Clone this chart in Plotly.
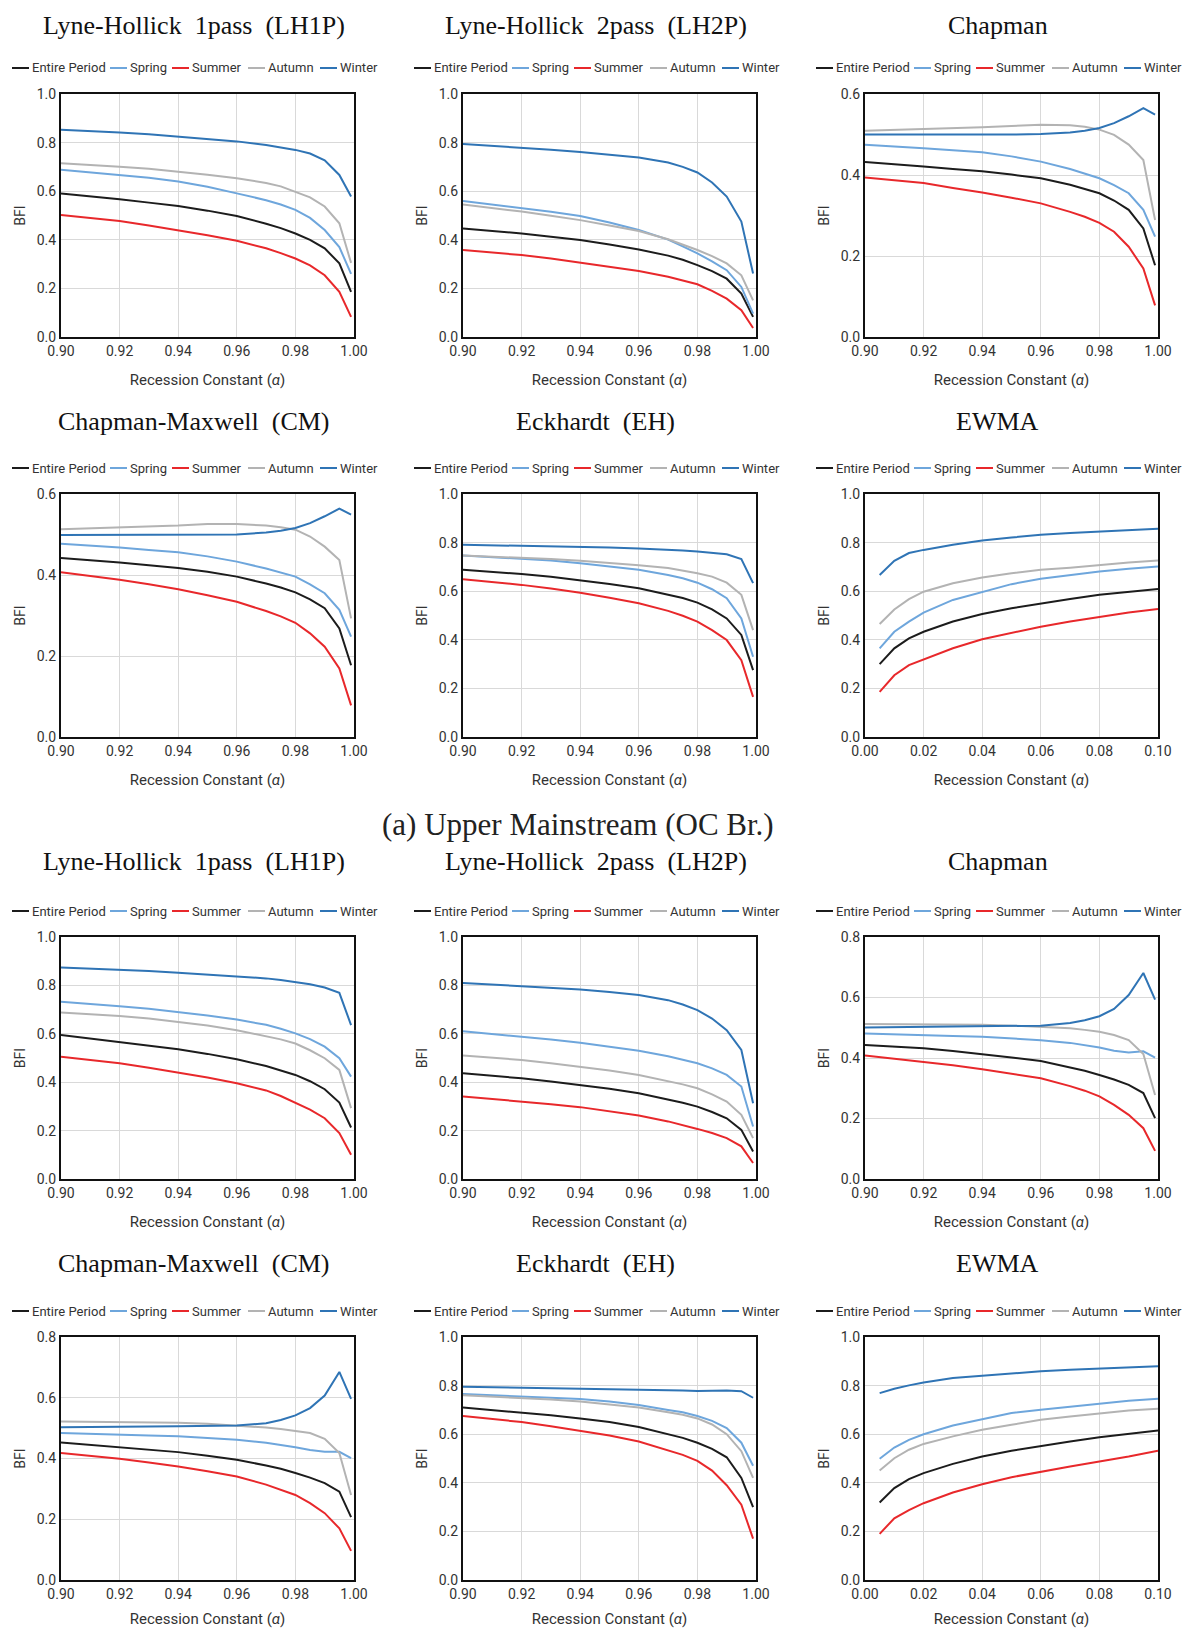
import plotly.graph_objects as go

PAGE_W, PAGE_H = 1190, 1637
BODY = 8  # default page margin around the plot div
W, H = PAGE_W - 2 * BODY, PAGE_H - 2 * BODY

# ---------------- data ----------------
ALPHA_X = [0.90, 0.91, 0.92, 0.93, 0.94, 0.95, 0.96, 0.97, 0.975, 0.98, 0.985, 0.99, 0.995, 0.999]
EWMA_X = [0.005, 0.01, 0.015, 0.02, 0.03, 0.04, 0.05, 0.06, 0.07, 0.08, 0.09, 0.10]
SERIES = ["Entire Period", "Spring", "Summer", "Autumn", "Winter"]

up_lh1p = {
    "Winter": [.853, .848, .842, .834, .825, .816, .805, .790, .781, .770, .755, .727, .667, .578],
    "Autumn": [.715, .709, .701, .692, .681, .668, .653, .634, .620, .598, .575, .537, .468, .305],
    "Spring": [.688, .678, .667, .655, .640, .618, .591, .563, .545, .523, .490, .440, .370, .260],
    "Entire Period": [.591, .580, .567, .553, .539, .520, .498, .466, .448, .426, .400, .365, .303, .186],
    "Summer": [.502, .490, .477, .459, .440, .419, .396, .365, .345, .323, .295, .254, .186, .083],
}
up_lh2p = {
    "Winter": [.794, .787, .780, .771, .761, .751, .739, .718, .700, .677, .636, .578, .475, .261],
    "Spring": [.560, .546, .530, .515, .498, .471, .440, .401, .373, .344, .311, .275, .206, .096],
    "Autumn": [.545, .531, .516, .499, .481, .459, .436, .402, .381, .358, .333, .303, .254, .151],
    "Entire Period": [.447, .437, .426, .413, .399, .381, .360, .335, .318, .296, .271, .240, .179, .083],
    "Summer": [.358, .348, .337, .323, .307, .291, .272, .248, .233, .217, .190, .158, .110, .037],
}
up_chap = {
    "Winter": [.500, .500, .499, .499, .499, .500, .501, .505, .509, .516, .528, .545, .565, .549],
    "Autumn": [.509, .511, .513, .516, .518, .521, .524, .523, .519, .512, .499, .475, .437, .289],
    "Spring": [.475, .471, .466, .461, .456, .446, .433, .415, .404, .392, .375, .355, .314, .248],
    "Entire Period": [.432, .427, .421, .415, .409, .401, .392, .376, .366, .355, .337, .314, .268, .177],
    "Summer": [.394, .387, .380, .368, .357, .344, .330, .309, .297, .282, .260, .223, .169, .078],
}
up_cm = {
    "Winter": [.499, .499, .499, .499, .499, .499, .500, .505, .509, .516, .528, .545, .564, .549],
    "Autumn": [.513, .515, .517, .520, .522, .526, .526, .522, .518, .512, .495, .470, .437, .293],
    "Spring": [.477, .473, .468, .462, .456, .446, .433, .416, .406, .396, .377, .355, .314, .248],
    "Entire Period": [.442, .437, .431, .424, .417, .408, .396, .379, .369, .357, .340, .318, .268, .177],
    "Summer": [.407, .398, .388, .377, .365, .350, .334, .311, .298, .282, .256, .223, .169, .078],
}
up_eh = {
    "Winter": [.791, .789, .787, .785, .783, .780, .776, .772, .768, .763, .759, .752, .732, .633],
    "Autumn": [.747, .743, .739, .732, .725, .717, .707, .695, .686, .674, .660, .635, .585, .440],
    "Spring": [.747, .741, .735, .726, .715, .703, .688, .667, .653, .635, .608, .571, .488, .330],
    "Entire Period": [.688, .680, .671, .659, .646, .630, .612, .587, .572, .553, .525, .488, .420, .275],
    "Summer": [.649, .638, .626, .611, .594, .573, .550, .519, .499, .475, .440, .399, .316, .165],
}
up_ewma = {
    "Winter": [.667, .725, .757, .770, .791, .809, .821, .832, .839, .846, .853, .857],
    "Autumn": [.465, .525, .567, .598, .633, .656, .674, .688, .697, .708, .718, .726],
    "Spring": [.365, .433, .475, .512, .564, .598, .629, .651, .667, .681, .692, .702],
    "Entire Period": [.300, .365, .406, .433, .475, .506, .530, .550, .568, .585, .598, .609],
    "Summer": [.186, .254, .296, .320, .365, .402, .429, .454, .475, .495, .512, .527],
}
lo_lh1p = {
    "Winter": [.874, .870, .865, .859, .852, .845, .838, .829, .822, .815, .805, .791, .769, .636],
    "Spring": [.732, .724, .714, .703, .691, .676, .659, .637, .621, .602, .578, .547, .499, .423],
    "Autumn": [.688, .682, .674, .663, .650, .634, .615, .591, .577, .560, .532, .499, .451, .293],
    "Entire Period": [.595, .581, .567, .552, .536, .517, .495, .467, .450, .430, .404, .371, .316, .213],
    "Summer": [.505, .492, .478, .460, .440, .419, .396, .366, .343, .316, .287, .251, .190, .100],
}
lo_lh2p = {
    "Winter": [.810, .804, .798, .791, .783, .773, .760, .739, .721, .698, .663, .615, .533, .313],
    "Spring": [.611, .600, .588, .576, .563, .548, .530, .507, .494, .478, .457, .430, .382, .217],
    "Autumn": [.510, .501, .492, .478, .464, .448, .430, .406, .391, .375, .350, .320, .265, .169],
    "Entire Period": [.437, .427, .416, .403, .389, .373, .354, .329, .315, .299, .277, .251, .203, .114],
    "Summer": [.341, .331, .320, .309, .297, .281, .262, .238, .224, .207, .190, .169, .135, .066],
}
lo_chap = {
    "Winter": [.501, .502, .503, .503, .504, .505, .507, .516, .525, .538, .562, .608, .681, .593],
    "Autumn": [.512, .512, .512, .511, .510, .507, .503, .498, .493, .487, .476, .459, .413, .278],
    "Spring": [.481, .479, .476, .473, .470, .465, .459, .450, .443, .435, .424, .418, .422, .401],
    "Entire Period": [.443, .438, .432, .423, .413, .402, .390, .370, .358, .344, .329, .311, .284, .201],
    "Summer": [.408, .398, .388, .376, .363, .349, .333, .307, .292, .273, .245, .212, .168, .093],
}
lo_cm = {
    "Winter": [.503, .503, .504, .505, .506, .507, .509, .516, .527, .542, .566, .607, .685, .596],
    "Autumn": [.522, .521, .520, .519, .518, .514, .509, .502, .497, .491, .484, .465, .418, .280],
    "Spring": [.484, .482, .479, .476, .473, .468, .462, .452, .445, .437, .428, .422, .422, .401],
    "Entire Period": [.453, .445, .437, .429, .421, .409, .396, .377, .366, .352, .337, .319, .291, .207],
    "Summer": [.418, .409, .399, .387, .374, .358, .341, .314, .298, .280, .253, .220, .170, .096],
}
lo_eh = {
    "Winter": [.795, .793, .792, .791, .790, .788, .785, .782, .780, .778, .779, .780, .777, .750],
    "Spring": [.765, .760, .755, .751, .745, .735, .720, .700, .690, .675, .655, .625, .565, .470],
    "Autumn": [.760, .755, .750, .743, .735, .724, .710, .690, .680, .665, .640, .600, .530, .420],
    "Entire Period": [.710, .700, .690, .678, .665, .650, .630, .602, .585, .565, .540, .505, .420, .300],
    "Summer": [.675, .663, .650, .633, .615, .595, .570, .535, .515, .490, .450, .390, .310, .170],
}
lo_ewma = {
    "Winter": [.769, .787, .801, .813, .831, .841, .852, .859, .865, .871, .876, .880],
    "Spring": [.499, .545, .577, .600, .636, .663, .687, .701, .714, .728, .738, .746],
    "Autumn": [.451, .501, .536, .560, .591, .618, .639, .659, .673, .687, .698, .705],
    "Entire Period": [.319, .378, .415, .440, .478, .508, .532, .552, .570, .587, .602, .615],
    "Summer": [.190, .254, .288, .316, .360, .394, .423, .446, .467, .488, .508, .532],
}

TITLES = ["Lyne-Hollick\u00a0 1pass\u00a0 (LH1P)", "Lyne-Hollick\u00a0 2pass\u00a0 (LH2P)", "Chapman",
          "Chapman-Maxwell\u00a0 (CM)", "Eckhardt\u00a0 (EH)", "EWMA"] * 2
PANEL_DATA = [up_lh1p, up_lh2p, up_chap, up_cm, up_eh, up_ewma,
              lo_lh1p, lo_lh2p, lo_chap, lo_cm, lo_eh, lo_ewma]
Y_MAX = [1.0, 1.0, 0.6, 0.6, 1.0, 1.0, 1.0, 1.0, 0.8, 0.8, 1.0, 1.0]
CAPTION = "(a) Upper Mainstream (OC Br.)"

# ---------------- style / layout (page pixel positions) ----------------
COLORS = {"Entire Period": "#1c1c1c", "Spring": "#6ea6dc", "Summer": "#e8282b",
          "Autumn": "#b3b3b3", "Winter": "#2f74b5"}
COL_X = [(61, 354), (463, 756), (865, 1158)]
ROW_Y = [(94, 337), (494, 737), (937, 1179), (1337, 1580)]
TITLE_Y = [26, 421, 862, 1263]
LEGEND_Y = [68, 468, 911, 1311]
XTITLE_STANDOFF = [17, 17, 17, 13]
LEG_OFFS = [0, 98, 160, 236, 308]
SANS = "Roboto, Noto Sans, sans-serif"
SERIF = "Liberation Serif, DejaVu Serif, serif"


def px(x):
    return (x - BODY) / W


def py(y):
    return 1 - (y - BODY) / H


fig = go.Figure()
layout = {}
shapes = []
annotations = []

for i, pdata in enumerate(PANEL_DATA):
    r, c = divmod(i, 3)
    n = i + 1
    xa = "x" if n == 1 else f"x{n}"
    ya = "y" if n == 1 else f"y{n}"
    is_ewma = (c == 2 and r in (1, 3))
    xs = EWMA_X if is_ewma else ALPHA_X
    for s in SERIES:
        fig.add_trace(go.Scatter(x=xs, y=pdata[s], mode="lines", name=s,
                                 line=dict(color=COLORS[s], width=2),
                                 xaxis=xa, yaxis=ya, showlegend=False))
    x0, x1 = COL_X[c]
    y0, y1 = ROW_Y[r]
    axis_common = dict(showgrid=True, gridcolor="#d9d9d9", gridwidth=1,
                       showline=True, mirror=True, linecolor="#111", linewidth=2,
                       zeroline=False, ticks="", automargin=False,
                       tickfont=dict(family=SANS, size=14, color="#333"))
    layout["xaxis" if n == 1 else f"xaxis{n}"] = dict(
        domain=[px(x0), px(x1)], anchor=ya,
        range=[0.0, 0.10] if is_ewma else [0.90, 1.00],
        dtick=0.02, tick0=0, tickformat=".2f",
        title=dict(text="Recession Constant (<i>α</i>)",
                   font=dict(family=SANS, size=15, color="#333"),
                   standoff=XTITLE_STANDOFF[r]),
        **axis_common)
    layout["yaxis" if n == 1 else f"yaxis{n}"] = dict(
        domain=[py(y1), py(y0)], anchor=xa,
        range=[0, Y_MAX[i]], dtick=0.2, tickformat=".1f",
        title=dict(text="BFI", font=dict(family=SANS, size=14, color="#333"), standoff=8),
        **axis_common)

    # panel title
    annotations.append(dict(text=TITLES[i], xref="paper", yref="paper",
                            x=px((x0 + x1) / 2 - 14), y=py(TITLE_Y[r]),
                            xanchor="center", yanchor="middle", showarrow=False,
                            font=dict(family=SERIF, size=26, color="#111")))
    # legend
    lx = x0 - 49
    ly = py(LEGEND_Y[r])
    for s, off in zip(SERIES, LEG_OFFS):
        shapes.append(dict(type="line", xref="paper", yref="paper",
                           x0=px(lx + off), x1=px(lx + off + 17), y0=ly, y1=ly,
                           line=dict(color=COLORS[s], width=2)))
        annotations.append(dict(text=s, xref="paper", yref="paper",
                                x=px(lx + off + 18), y=ly, xanchor="left", yanchor="middle",
                                showarrow=False,
                                font=dict(family=SANS, size=13, color="#333")))

annotations.append(dict(text=CAPTION, xref="paper", yref="paper",
                        x=px(578), y=py(824), xanchor="center", yanchor="middle",
                        showarrow=False, font=dict(family=SERIF, size=31, color="#222")))

fig.update_layout(width=W, height=H, margin=dict(l=0, r=0, t=0, b=0, autoexpand=False),
                  paper_bgcolor="white", plot_bgcolor="white",
                  shapes=shapes, annotations=annotations, showlegend=False, **layout)

fig.write_html("out.html")
